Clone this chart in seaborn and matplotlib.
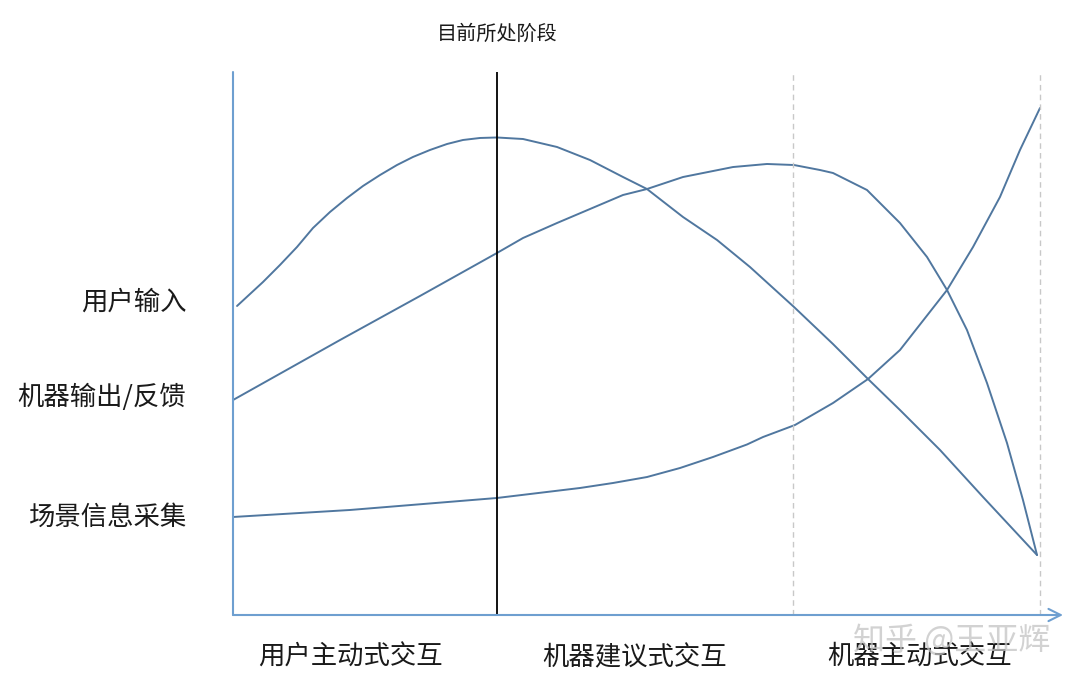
import matplotlib
matplotlib.use("Agg")
from matplotlib import pyplot as plt
import seaborn as sns
import pandas as pd

sns.set_theme(style="white")
plt.rcParams["font.family"] = ["Noto Sans CJK SC", "DejaVu Sans"]

# curves (x: 0..100 across the three stages, y: 0..100 height)
user_x = [0.50, 3.72, 5.82, 7.93, 9.91, 12.02, 14.13, 16.11, 18.22, 20.32, 22.30, 24.41,
          26.52, 28.50, 30.61, 32.71, 35.94, 40.15, 44.24, 48.33, 51.30, 55.76, 59.98,
          64.06, 69.52, 74.35, 78.69, 82.65, 87.61, 92.94, 99.63]
user_y = [56.91, 61.33, 64.46, 67.77, 71.27, 74.22, 76.80, 79.01, 81.03, 82.87, 84.35, 85.64,
          86.74, 87.48, 87.85, 87.94, 87.66, 86.19, 83.79, 80.66, 78.45, 73.30, 69.06,
          64.09, 56.72, 49.90, 43.46, 37.75, 30.39, 21.73, 11.05]

machine_x = [0.0, 13.26, 23.17, 32.71, 35.94, 40.15, 44.24, 48.33, 51.30, 55.76, 61.96,
             66.17, 69.52, 72.74, 74.35, 78.56, 82.65, 86.00, 88.48, 90.95, 93.43, 95.91,
             97.89, 99.63]
machine_y = [39.59, 50.64, 58.75, 66.67, 69.43, 72.19, 74.77, 77.35, 78.45, 80.66, 82.50,
             83.06, 82.87, 81.95, 81.40, 78.27, 72.19, 65.93, 59.85, 52.49, 42.73, 31.68,
             21.18, 11.05]

scene_x = [0.0, 14.50, 32.71, 43.00, 47.09, 51.30, 55.39, 59.48, 63.69, 65.68, 69.64, 74.35,
           78.69, 82.65, 88.48, 91.70, 95.04, 97.52, 100.0]
scene_y = [18.05, 19.34, 21.55, 23.39, 24.31, 25.41, 27.07, 29.10, 31.40, 32.78, 34.99, 39.04,
           43.46, 48.80, 59.85, 67.77, 76.98, 85.64, 93.37]

row_labels = ["用户输入", "机器输出/反馈", "场景信息采集"]
row_label_y = [57.6, 40.0, 17.9]
stage_labels = ["用户主动式交互", "机器建议式交互", "机器主动式交互"]
stage_label_x = [14.5, 49.8, 85.1]
now_x = 32.71
stage_edges = [69.4, 100.0]

curve_color = "#50779f"
axis_color = "#6e9fd0"

fig = plt.figure(figsize=(10.8, 6.87), dpi=100)
ax = fig.add_axes([233 / 1080, 72 / 687, 830 / 1080, 543 / 687])

for xs, ys in [(user_x, user_y), (machine_x, machine_y), (scene_x, scene_y)]:
    df = pd.DataFrame({"x": xs, "y": ys})
    sns.lineplot(data=df, x="x", y="y", sort=False, color=curve_color, linewidth=1.4,
                 solid_joinstyle="round", solid_capstyle="round", ax=ax)

ax.set_xlim(0, 102.85)
ax.set_ylim(0, 100)
for s in ax.spines.values():
    s.set_visible(False)
ax.set_xticks([])
ax.set_yticks([])
ax.set_xlabel("")
ax.set_ylabel("")

# axes
ax.plot([0, 0], [0, 100], color=axis_color, lw=1.5, clip_on=False)
ax.annotate("", xy=(102.85, 0), xytext=(0, 0),
            arrowprops=dict(arrowstyle="->", color=axis_color, lw=1.5,
                            mutation_scale=22, shrinkA=0, shrinkB=0),
            annotation_clip=False)

ax.axvline(now_x, ymin=0, ymax=1, color="black", lw=1.3)
for xe in stage_edges:
    ax.axvline(xe, ymin=0, ymax=1, color="#c8c8c8", lw=1.0, ls=(0, (4, 3)))

for lab, yy in zip(row_labels, row_label_y):
    ax.text(-5.8, yy, lab, ha="right", va="center", fontsize=19, color="#1a1a1a")
for lab, xx in zip(stage_labels, stage_label_x):
    ax.text(xx, -7.8, lab, ha="center", va="center", fontsize=19, color="#1a1a1a")
ax.text(now_x, 107.0, "目前所处阶段", ha="center", va="center", fontsize=14.5, color="#1a1a1a")

# watermark
fig.text(952 / 1080, 1 - 641 / 687, "知乎 @王亚辉", ha="center", va="center",
         fontsize=23, color="#c4c4c4", alpha=0.75, zorder=10)

fig.savefig("out.png", dpi=100, facecolor="white")
